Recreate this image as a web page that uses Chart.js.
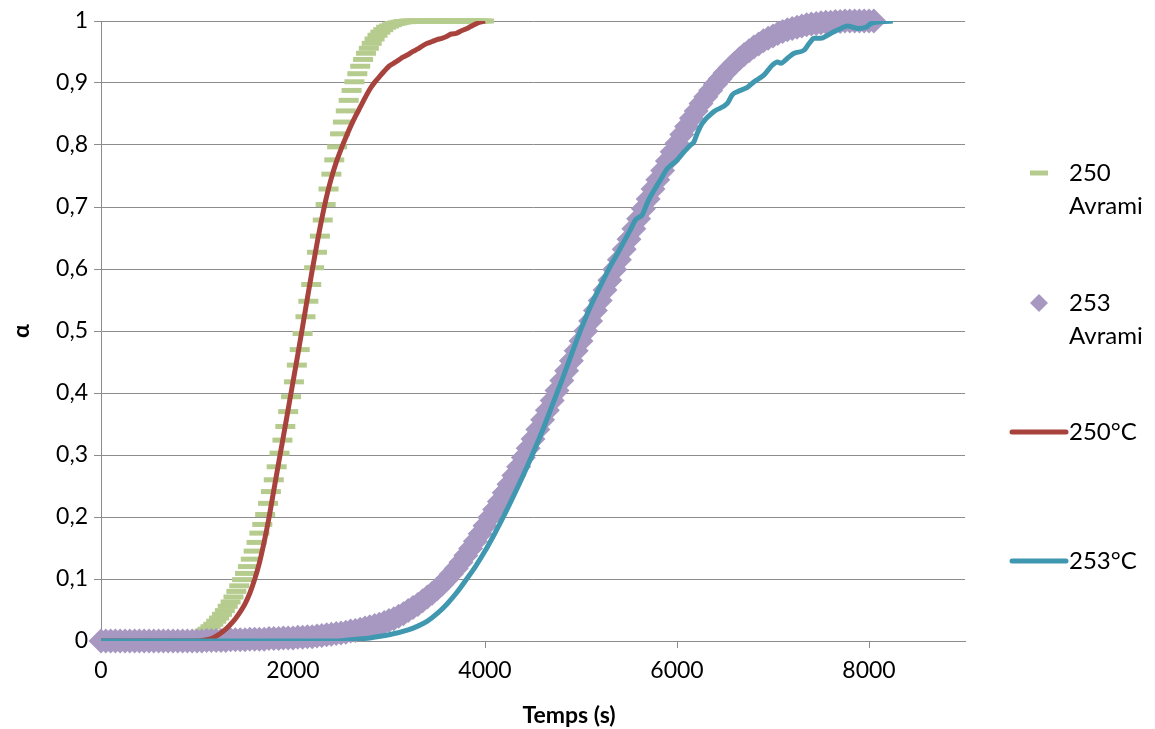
<!DOCTYPE html>
<html>
<head>
<meta charset="utf-8">
<script src="https://cdn.jsdelivr.net/npm/chart.js@4.4.1/dist/chart.umd.min.js"></script>
<style>
  html, body { margin: 0; padding: 0; background: #fff; }
  #wrap { width: 1155px; height: 729px; }
</style>
</head>
<body>
<div id="wrap"><canvas id="myChart"></canvas></div>
<script>
// [temps (s), alpha]
const avrami250 = [
  [0,0],[30,0],[60,0],[90,0],[120,0],[150,0],[180,0],[210,0],[240,0],[270,0],[300,0],[330,0],[360,0],
  [390,0],[420,0],[450,0],[480,0],[510,0],[540,0],[570,0],[600,0],[630,0],[660,0],[690,0],[720,0],
  [750,0],[780,0.001],[810,0.001],[840,0.002],[870,0.003],[900,0.004],[930,0.005],[960,0.007],[990,0.009],
  [1020,0.011],[1050,0.013],[1080,0.016],[1110,0.019],[1140,0.023],[1170,0.027],[1200,0.032],[1230,0.037],
  [1260,0.043],[1290,0.049],[1320,0.056],[1350,0.063],[1380,0.071],[1410,0.080],[1440,0.089],[1470,0.099],
  [1500,0.109],[1530,0.120],[1560,0.132],[1590,0.145],[1620,0.159],[1650,0.174],[1680,0.188],[1710,0.204],
  [1740,0.222],[1770,0.241],[1800,0.260],[1830,0.281],[1860,0.303],[1890,0.324],[1920,0.346],[1950,0.370],
  [1980,0.394],[2010,0.418],[2040,0.445],[2070,0.470],[2100,0.496],[2130,0.523],[2160,0.548],[2190,0.575],
  [2220,0.602],[2250,0.627],[2280,0.653],[2310,0.679],[2340,0.704],[2370,0.729],[2400,0.753],[2430,0.776],
  [2460,0.797],[2490,0.818],[2520,0.837],[2550,0.855],[2580,0.872],[2610,0.888],[2640,0.902],[2670,0.915],
  [2700,0.927],[2730,0.938],[2760,0.948],[2790,0.956],[2820,0.964],[2850,0.971],[2880,0.977],[2910,0.982],
  [2940,0.986],[2970,0.990],[3000,0.992],[3030,0.994],[3060,0.996],[3090,0.997],[3120,0.998],[3150,0.999],
  [3180,0.999],[3210,1],[3240,1],[3270,1],[3300,1],[3330,1],[3360,1],[3390,1],[3420,1],[3450,1],[3480,1],
  [3510,1],[3540,1],[3570,1],[3600,1],[3630,1],[3660,1],[3690,1],[3720,1],[3750,1],[3780,1],[3810,1],
  [3840,1],[3870,1],[3900,1],[3930,1],[3960,1],[3990,1]
];

const avrami253 = [
  [0,0],[50,0],[100,0],[150,0],[200,0],[250,0],[300,0],[350,0],[400,0],[450,0],[500,0],[550,0],[600,0],
  [650,0],[700,0],[750,0],[800,0],[850,0],[900,0],[950,0],[1000,0],[1050,0],[1100,0.001],[1150,0.001],
  [1200,0.001],[1250,0.001],[1300,0.001],[1350,0.002],[1400,0.002],[1450,0.002],[1500,0.002],[1550,0.003],
  [1600,0.003],[1650,0.003],[1700,0.003],[1750,0.004],[1800,0.004],[1850,0.004],[1900,0.005],[1950,0.005],
  [2000,0.005],[2050,0.006],[2100,0.006],[2150,0.007],[2200,0.007],[2250,0.008],[2300,0.009],[2350,0.010],
  [2400,0.011],[2450,0.012],[2500,0.013],[2550,0.014],[2600,0.016],[2650,0.017],[2700,0.019],[2750,0.021],
  [2800,0.023],[2850,0.025],[2900,0.027],[2950,0.030],[3000,0.033],[3050,0.036],[3100,0.040],[3150,0.044],
  [3200,0.049],[3250,0.054],[3300,0.059],[3350,0.065],[3400,0.071],[3450,0.077],[3500,0.084],[3550,0.091],
  [3600,0.099],[3650,0.108],[3700,0.117],[3750,0.127],[3800,0.138],[3850,0.149],[3900,0.161],[3950,0.173],
  [4000,0.186],[4050,0.199],[4100,0.212],[4150,0.225],[4200,0.239],[4250,0.253],[4300,0.267],[4350,0.281],
  [4400,0.296],[4450,0.311],[4500,0.326],[4550,0.341],[4600,0.357],[4650,0.372],[4700,0.388],[4750,0.404],
  [4800,0.420],[4850,0.436],[4900,0.452],[4950,0.468],[5000,0.484],[5050,0.500],[5100,0.516],[5150,0.533],
  [5200,0.549],[5250,0.566],[5300,0.582],[5350,0.599],[5400,0.615],[5450,0.632],[5500,0.648],[5550,0.665],
  [5600,0.681],[5650,0.697],[5700,0.713],[5750,0.729],[5800,0.744],[5850,0.759],[5900,0.774],[5950,0.789],
  [6000,0.803],[6050,0.817],[6100,0.830],[6150,0.843],[6200,0.855],[6250,0.867],[6300,0.878],[6350,0.888],
  [6400,0.898],[6450,0.907],[6500,0.916],[6550,0.924],[6600,0.932],[6650,0.939],[6700,0.946],[6750,0.952],
  [6800,0.958],[6850,0.963],[6900,0.968],[6950,0.972],[7000,0.976],[7050,0.980],[7100,0.983],[7150,0.986],
  [7200,0.988],[7250,0.990],[7300,0.992],[7350,0.994],[7400,0.995],[7450,0.996],[7500,0.997],[7550,0.998],
  [7600,0.998],[7650,0.999],[7700,0.999],[7750,1],[7800,1],[7850,1],[7900,1],[7950,1],[8000,1],[8050,1]
];

const mesure250 = [
  [0,0],[200,0],[400,0],[600,0],[800,0],[1000,0],[1050,0.001],[1100,0.002],[1150,0.004],[1200,0.008],
  [1250,0.013],[1300,0.019],[1350,0.027],[1400,0.036],[1450,0.047],[1500,0.060],[1550,0.077],[1600,0.099],
  [1650,0.126],[1700,0.160],[1750,0.199],[1800,0.243],[1850,0.287],[1900,0.330],[1950,0.374],[2000,0.418],
  [2050,0.462],[2100,0.507],[2150,0.553],[2200,0.598],[2250,0.641],[2300,0.681],[2350,0.717],[2400,0.747],
  [2450,0.772],[2500,0.793],[2550,0.812],[2600,0.830],[2650,0.846],[2700,0.861],[2750,0.876],[2800,0.890],
  [2850,0.901],[2900,0.910],[2950,0.919],[3000,0.927],[3050,0.932],[3100,0.937],[3150,0.942],[3200,0.946],
  [3250,0.951],[3300,0.955],[3350,0.960],[3400,0.964],[3450,0.967],[3500,0.970],[3550,0.972],[3600,0.975],
  [3650,0.979],[3700,0.980],[3750,0.984],[3800,0.987],[3850,0.991],[3900,0.995],[3950,0.998],[4000,1]
];

const mesure253 = [
  [0,0],[500,0],[1000,0],[1500,0],[2000,0],[2400,0],[2600,0.002],[2800,0.005],[3000,0.010],[3200,0.018],
  [3300,0.024],[3400,0.032],[3500,0.044],[3600,0.059],[3700,0.077],[3800,0.098],[3900,0.120],[4000,0.145],
  [4100,0.173],[4200,0.203],[4300,0.235],[4400,0.268],[4500,0.303],[4600,0.340],[4700,0.380],[4800,0.420],
  [4900,0.462],[5000,0.503],[5100,0.540],[5200,0.572],[5300,0.603],[5380,0.625],[5450,0.645],[5514,0.663],
  [5567,0.679],[5600,0.683],[5636,0.687],[5700,0.710],[5828,0.744],[5900,0.762],[6002,0.776],[6080,0.790],
  [6141,0.800],[6176,0.805],[6211,0.819],[6263,0.835],[6385,0.854],[6524,0.867],[6576,0.881],[6629,0.886],
  [6733,0.893],[6803,0.902],[6907,0.913],[6994,0.929],[7046,0.934],[7081,0.932],[7151,0.940],[7220,0.948],
  [7324,0.953],[7377,0.964],[7429,0.972],[7499,0.972],[7568,0.977],[7638,0.983],[7708,0.988],[7777,0.992],
  [7830,0.990],[7882,0.988],[7969,0.990],[8021,0.996],[8073,0.998],[8160,0.999],[8248,1]
];

const seriesLabels = ['250 Avrami', '253 Avrami', '250°C', '253°C'];
const xTicks = [0, 2000, 4000, 6000, 8000];

const FONT = "Lato, 'DejaVu Sans', sans-serif";
const toXY = arr => arr.map(p => ({ x: p[0], y: p[1] }));

// legend on the right, Excel style (wrapped labels)
const sideLegend = {
  id: 'sideLegend',
  afterDraw(chart) {
    const ctx = chart.ctx;
    const rows = [
      { ds: 0, y: 173, kind: 'dash' },
      { ds: 1, y: 303, kind: 'diamond' },
      { ds: 2, y: 432, kind: 'line' },
      { ds: 3, y: 561, kind: 'line' }
    ];
    ctx.save();
    ctx.font = '24px ' + FONT;
    ctx.fillStyle = '#000';
    ctx.textBaseline = 'middle';
    ctx.textAlign = 'left';
    rows.forEach(r => {
      const ds = chart.data.datasets[r.ds];
      if (r.kind === 'dash') {
        ctx.strokeStyle = ds.pointBorderColor;
        ctx.lineWidth = 5;
        ctx.beginPath(); ctx.moveTo(1030, r.y); ctx.lineTo(1048, r.y); ctx.stroke();
      } else if (r.kind === 'diamond') {
        ctx.fillStyle = ds.pointBackgroundColor;
        ctx.beginPath();
        ctx.moveTo(1039, r.y - 9); ctx.lineTo(1048, r.y); ctx.lineTo(1039, r.y + 9); ctx.lineTo(1030, r.y);
        ctx.closePath(); ctx.fill();
        ctx.fillStyle = '#000';
      } else {
        ctx.strokeStyle = ds.borderColor;
        ctx.lineWidth = 5;
        ctx.lineCap = 'round';
        ctx.beginPath(); ctx.moveTo(1012, r.y); ctx.lineTo(1066, r.y); ctx.stroke();
      }
      const parts = ds.label.split(' ');
      parts.forEach((t, i) => ctx.fillText(t, 1069, r.y + i * 33));
    });
    // x axis title
    ctx.font = 'bold 23px ' + FONT;
    ctx.textAlign = 'center';
    ctx.fillText('Temps (s)', 569, 716);
    ctx.restore();
  }
};

new Chart(document.getElementById('myChart'), {
  type: 'scatter',
  data: {
    datasets: [
      {
        label: seriesLabels[0],
        data: toXY(avrami250),
        showLine: false,
        pointStyle: 'line',
        pointRadius: 10,
        pointBorderWidth: 5,
        pointBorderColor: 'rgb(181,204,142)',
        pointBackgroundColor: 'rgb(181,204,142)',
        clip: false,
        order: 4
      },
      {
        label: seriesLabels[1],
        data: toXY(avrami253),
        showLine: false,
        pointStyle: 'rectRot',
        pointRadius: 12.5,
        pointBorderWidth: 0,
        pointBackgroundColor: 'rgb(167,152,193)',
        pointBorderColor: 'rgb(167,152,193)',
        clip: false,
        order: 3
      },
      {
        label: seriesLabels[2],
        data: toXY(mesure250),
        showLine: true,
        borderColor: 'rgb(168,66,61)',
        borderWidth: 5,
        pointRadius: 0,
        cubicInterpolationMode: 'monotone',
        order: 2
      },
      {
        label: seriesLabels[3],
        data: toXY(mesure253),
        showLine: true,
        borderColor: 'rgb(64,152,176)',
        borderWidth: 5,
        pointRadius: 0,
        cubicInterpolationMode: 'monotone',
        order: 1
      }
    ]
  },
  options: {
    responsive: true,
    maintainAspectRatio: false,
    animation: false,
    layout: { padding: { top: 21, right: 190, left: 0, bottom: 0 } },
    plugins: {
      legend: { display: false },
      tooltip: { enabled: false }
    },
    scales: {
      x: {
        type: 'linear',
        min: 0,
        max: 9000,
        bounds: 'data',
        afterFit: s => { s.height = 88; },
        afterBuildTicks: s => { s.ticks = xTicks.map(v => ({ value: v })); },
        grid: { drawOnChartArea: false, drawTicks: true, tickLength: 7, color: '#8c8c8c' },
        border: { color: '#8c8c8c', width: 1 },
        ticks: {
          color: '#000',
          padding: 9,
          maxRotation: 0,
          font: { family: FONT, size: 23 },
          callback: v => String(v)
        }
      },
      y: {
        min: 0,
        max: 1,
        afterFit: s => { s.width = 101; },
        grid: { color: '#8c8c8c', lineWidth: 1, drawTicks: true, tickLength: 7 },
        border: { color: '#8c8c8c', width: 1 },
        ticks: {
          stepSize: 0.1,
          color: '#000',
          padding: 6,
          font: { family: FONT, size: 23 },
          callback: v => String(Number(v.toFixed(1))).replace('.', ',')
        },
        title: {
          display: true,
          text: 'α',
          color: '#000',
          padding: { top: 8, bottom: 0 },
          font: { family: FONT, size: 23, weight: 'bold' }
        }
      }
    }
  },
  plugins: [sideLegend]
});
</script>
</body>
</html>
